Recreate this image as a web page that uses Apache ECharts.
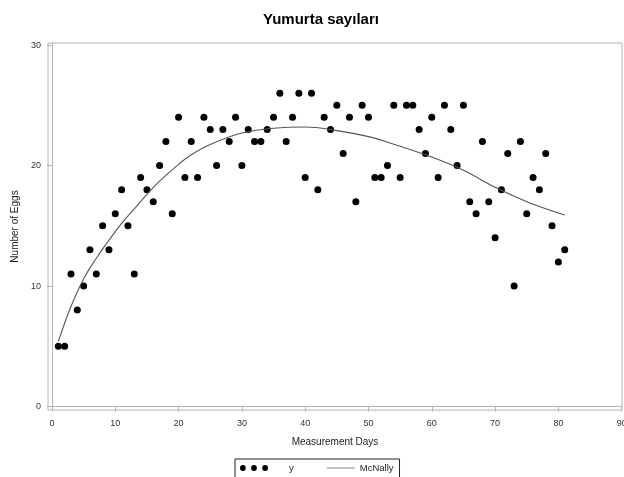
<!DOCTYPE html>
<html>
<head>
<meta charset="utf-8">
<script src="https://cdn.jsdelivr.net/npm/echarts@6/dist/echarts.min.js"></script>
<style>html,body{margin:0;padding:0;background:#fff;overflow:hidden}#c{width:624px;height:477px}</style>
</head>
<body>
<div id="c"></div>
<script>
// Observed egg counts (day 1..81)
const days = [1,2,3,4,5,6,7,8,9,10,11,12,13,14,15,16,17,18,19,20,21,22,23,24,25,26,27,28,29,30,31,32,33,34,35,36,37,38,39,40,41,42,43,44,45,46,47,48,49,50,51,52,53,54,55,56,57,58,59,60,61,62,63,64,65,66,67,68,69,70,71,72,73,74,75,76,77,78,79,80,81];
const eggs = [5,5,11,8,10,13,11,15,13,16,18,15,11,19,18,17,20,22,16,24,19,22,19,24,23,20,23,22,24,20,23,22,22,23,24,26,22,24,26,19,26,18,24,23,25,21,24,17,25,24,19,19,20,25,19,25,25,23,21,24,19,25,23,20,25,17,16,22,17,14,18,21,10,22,16,19,18,21,15,12,13];
// McNally fitted curve
const curveDays = [1,3,5,7,9,11,13,15,17,20,22,25,30,35,40,45,50,55,60,65,70,75,81];
const curveVals = [5.4,8.3,10.6,12.3,13.8,15.2,16.4,17.6,18.7,20.1,20.9,21.75,22.7,23.1,23.2,22.9,22.4,21.6,20.7,19.6,18.2,17.0,15.9];
const xTicks = [0,10,20,30,40,50,60,70,80,90];
const yTicks = [0,10,20,30];

const scatterData = days.map((d,i)=>[d, eggs[i]]);
const curveData = curveDays.map((d,i)=>[d, curveVals[i]]);

const font = 'Liberation Sans, Arial, sans-serif';
const chart = echarts.init(document.getElementById('c'), null, {width: 624, height: 477});
chart.setOption({
  animation: false,
  backgroundColor: '#fff',
  title: {
    text: 'Yumurta sayıları',
    left: 263, top: 12, padding: 0,
    textStyle: {fontFamily: font, fontWeight: 'bold', fontSize: 15, color: '#000'}
  },
  grid: {left: 48, right: 2, top: 43, bottom: 67, show: true, borderColor: '#b4b4b4', borderWidth: 1,
         containLabel: false, outerBoundsMode: 'none'},
  xAxis: {
    type: 'value', min: -0.63, max: 90.05,
    name: 'Measurement Days', nameLocation: 'middle', nameGap: 27,
    nameTextStyle: {fontFamily: font, fontSize: 10, color: '#222'},
    axisLine: {show: true, lineStyle: {color: '#b4b4b4'}},
    axisTick: {show: true, length: 5, lineStyle: {color: '#b4b4b4'}, customValues: xTicks},
    axisLabel: {fontFamily: font, fontSize: 9, color: '#333', margin: 9, customValues: xTicks},
    splitLine: {show: false}
  },
  yAxis: {
    type: 'value', min: -0.29, max: 30.17,
    name: 'Number of Eggs', nameLocation: 'middle', nameGap: 26,
    nameTextStyle: {fontFamily: font, fontSize: 10, color: '#222'},
    axisLine: {show: true, lineStyle: {color: '#b4b4b4'}},
    axisTick: {show: true, length: 5, lineStyle: {color: '#b4b4b4'}, customValues: yTicks},
    axisLabel: {fontFamily: font, fontSize: 9, color: '#333', margin: 7, customValues: yTicks},
    splitLine: {show: false}
  },
  legend: {
    left: 235, top: 459,
    orient: 'horizontal',
    padding: [4, 6, 6, 5],
    itemGap: 33,
    itemWidth: 28, itemHeight: 6,
    borderColor: '#222', borderWidth: 1,
    textStyle: {fontFamily: font, fontSize: 9.5, color: '#222'},
    data: [
      {name: 'y', icon: 'path://M0,3a3,3 0 1,0 6,0a3,3 0 1,0 -6,0M11.5,3a3,3 0 1,0 6,0a3,3 0 1,0 -6,0M23,3a3,3 0 1,0 6,0a3,3 0 1,0 -6,0',
       itemStyle: {color: '#000', opacity: 1},
       textStyle: {padding: [0,0,0,16]}},
      {name: 'McNally', icon: 'path://M0,0M0,2.6h28v0.8h-28zM28,6',
       itemStyle: {color: '#666'}}
    ]
  },
  series: [
    {
      name: 'y', type: 'scatter', data: scatterData,
      symbol: 'circle', symbolSize: 7,
      itemStyle: {color: '#000', opacity: 1}
    },
    {
      name: 'McNally', type: 'line', data: curveData,
      smooth: 0.4, symbol: 'none',
      lineStyle: {color: '#555', width: 1.1},
      itemStyle: {color: '#555'}
    }
  ]
});
</script>
</body>
</html>
